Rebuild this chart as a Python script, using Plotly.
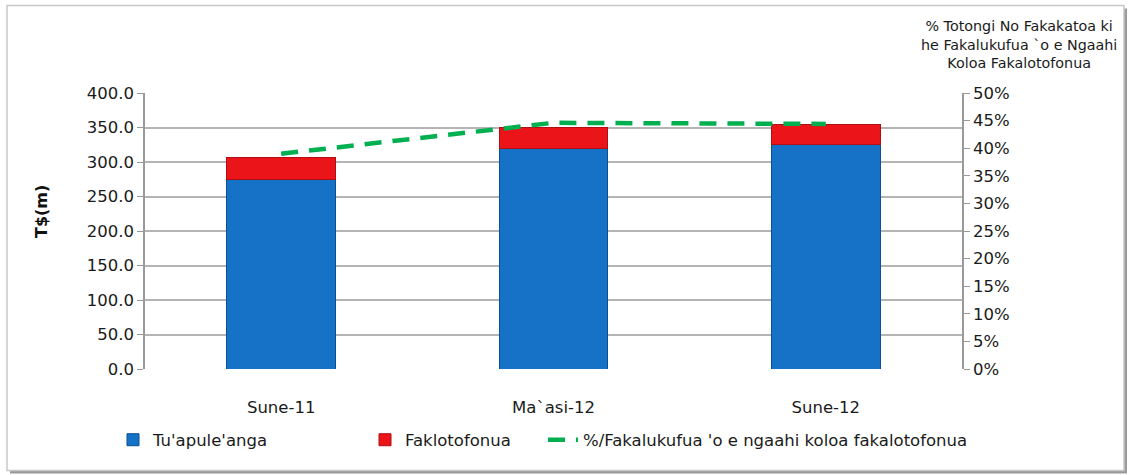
import plotly.graph_objects as go

categories = ["Sune-11", "Ma`asi-12", "Sune-12"]
tuapuleanga = [275, 319, 325]
faklotofonua = [31, 31, 30]
pct_share = [39.0, 44.6, 44.4]

left_ticks = [0, 50, 100, 150, 200, 250, 300, 350, 400]
right_ticks = list(range(0, 51, 5))

FONT = "DejaVu Sans"
FS = 16.5
W, H = 1129, 475
L, R, T, B = 145, 167, 93, 106

fig = go.Figure()
fig.add_trace(go.Bar(
    x=categories, y=tuapuleanga, name="Tu'apule'anga",
    marker=dict(color="#1572C6", line=dict(color="#0B4F94", width=1)),
    width=0.4, legend="legend",
))
fig.add_trace(go.Bar(
    x=categories, y=faklotofonua, name="Faklotofonua",
    marker=dict(color="#EA1419", line=dict(color="#B00E12", width=1)),
    width=0.4, legend="legend2",
))
fig.add_trace(go.Scatter(
    x=categories, y=pct_share, name="%/Fakalukufua 'o e ngaahi koloa fakalotofonua",
    mode="lines", yaxis="y2",
    line=dict(color="#00B050", width=4.5, dash="17px,11px"),
    legend="legend3",
))

pw = W - L - R
ph = H - T - B
def px(xp):
    return (xp - L) / pw
def py(yp):
    return (H - B - yp) / ph

shapes = [
    dict(type="rect", xref="paper", yref="paper", layer="below",
         x0=px(10), x1=px(1127), y0=py(473.5), y1=py(8.5),
         fillcolor="#9a9a9a", line=dict(width=0)),
    dict(type="rect", xref="paper", yref="paper", layer="below",
         x0=px(7), x1=px(1124), y0=py(470.5), y1=py(5.5),
         fillcolor="white", line=dict(color="#c8c8c8", width=1.5)),
]

legend_common = dict(orientation="h", xref="container", yref="container",
                     yanchor="middle", bgcolor="rgba(0,0,0,0)",
                     font=dict(family=FONT, size=FS, color="#1a1a1a"))

tickfont = dict(family=FONT, size=FS, color="#1a1a1a")

fig.update_layout(
    width=W, height=H,
    margin=dict(l=L, r=R, t=T, b=B, autoexpand=False),
    paper_bgcolor="white", plot_bgcolor="rgba(0,0,0,0)",
    barmode="stack",
    font=dict(family=FONT, size=FS, color="#1a1a1a"),
    xaxis=dict(showgrid=False, showline=False, ticks="", automargin=False,
               ticklabelstandoff=26, tickfont=tickfont),
    yaxis=dict(range=[0, 400], tickvals=left_ticks, automargin=False,
               ticktext=[f"{v:.1f}" for v in left_ticks],
               showgrid=True, gridcolor="#b4b4b4", gridwidth=1.5,
               showline=True, linecolor="#999", linewidth=1.5,
               ticks="outside", ticklen=6, tickcolor="#999",
               zeroline=False, tickfont=tickfont),
    yaxis2=dict(range=[0, 50], tickvals=right_ticks, automargin=False,
                ticktext=[f"{v}%" for v in right_ticks],
                overlaying="y", side="right", showgrid=False,
                showline=True, linecolor="#999", linewidth=1.5,
                ticks="outside", ticklen=6, tickcolor="#999",
                zeroline=False, tickfont=tickfont),
    showlegend=True,
    legend=dict(x=113 / W, y=1 - 440 / H, **legend_common),
    legend2=dict(x=365 / W, y=1 - 440 / H, **legend_common),
    legend3=dict(x=543 / W, y=1 - 440 / H, **legend_common),
    shapes=shapes,
    annotations=[
        dict(text="% Totongi No Fakakatoa ki<br>he Fakalukufua `o e Ngaahi<br>Koloa Fakalotofonua",
             xref="paper", yref="paper", x=px(1019), y=py(45),
             xanchor="center", yanchor="middle", showarrow=False,
             align="center", font=dict(family=FONT, size=14.3, color="#1a1a1a")),
        dict(text="<b>T$(m)</b>", xref="paper", yref="paper",
             x=px(41), y=py(212), xanchor="center", yanchor="middle",
             textangle=-90, showarrow=False,
             font=dict(family=FONT, size=16, color="#111")),
    ],
)

fig.write_html("out.html", config={"displayModeBar": False},
               post_script="document.body.style.margin='0';document.body.style.overflow='hidden';")
